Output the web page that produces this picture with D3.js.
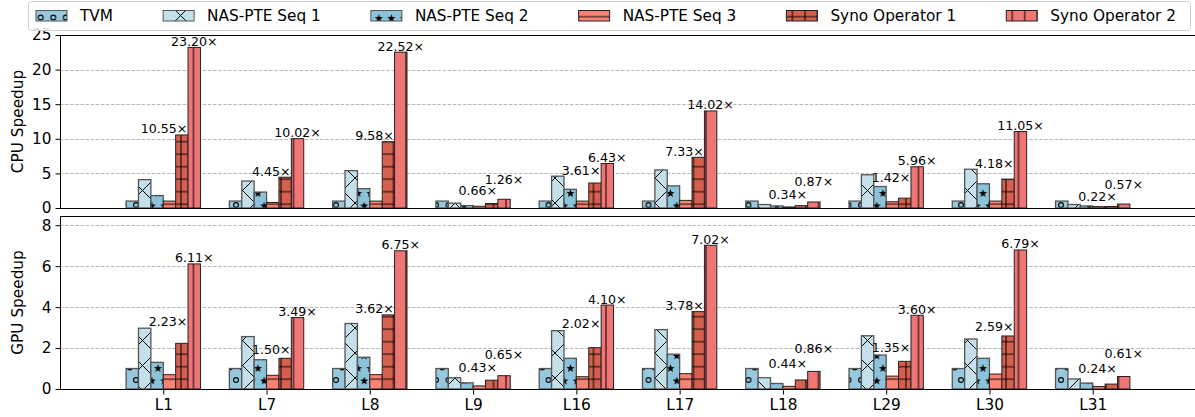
<!DOCTYPE html>
<html>
<head>
<meta charset="utf-8">
<script src="https://cdn.jsdelivr.net/npm/d3@7"></script>
<style>
  html, body { margin: 0; padding: 0; background: #fff; }
  svg { display: block; font-family: "DejaVu Sans", sans-serif; }
</style>
</head>
<body>
<svg id="chart" width="1195" height="417"></svg>
<script>
// Layers / workloads on the x axis
const categories = ["L1", "L7", "L8", "L9", "L16", "L17", "L18", "L29", "L30", "L31"];
const seriesNames = ["TVM", "NAS-PTE Seq 1", "NAS-PTE Seq 2", "NAS-PTE Seq 3", "Syno Operator 1", "Syno Operator 2"];

// CPU speedup over TVM
const cpuTVM  = [1, 1, 1, 1, 1, 1, 1, 1, 1, 1];
const cpuSeq1 = [4.1, 3.9, 5.4, 0.7, 4.6, 5.5, 0.5, 4.8, 5.6, 0.5];
const cpuSeq2 = [1.8, 2.3, 2.8, 0.35, 2.7, 3.2, 0.3, 3.1, 3.5, 0.3];
const cpuSeq3 = [1.0, 0.8, 1.0, 0.25, 1.0, 1.1, 0.15, 0.9, 1.0, 0.2];
const cpuOp1  = [10.55, 4.45, 9.58, 0.66, 3.61, 7.33, 0.34, 1.42, 4.18, 0.22];
const cpuOp2  = [23.20, 10.02, 22.52, 1.26, 6.43, 14.02, 0.87, 5.96, 11.05, 0.57];

// GPU speedup over TVM
const gpuTVM  = [1, 1, 1, 1, 1, 1, 1, 1, 1, 1];
const gpuSeq1 = [2.97, 2.56, 3.2, 0.55, 2.85, 2.9, 0.55, 2.6, 2.44, 0.49];
const gpuSeq2 = [1.3, 1.43, 1.55, 0.3, 1.5, 1.7, 0.27, 1.66, 1.5, 0.29];
const gpuSeq3 = [0.7, 0.67, 0.7, 0.15, 0.6, 0.75, 0.13, 0.63, 0.73, 0.12];
const gpuOp1  = [2.23, 1.50, 3.62, 0.43, 2.02, 3.78, 0.44, 1.35, 2.59, 0.24];
const gpuOp2  = [6.11, 3.49, 6.75, 0.65, 4.10, 7.02, 0.86, 3.60, 6.79, 0.61];

// Heights (in speedup units) at which the value labels sit
const cpuOp1LabelAt = [10.55, 4.45, 9.58, 1.6, 4.6, 7.33, 1.1, 3.5, 5.6, 0.77];
const cpuOp2LabelAt = [23.20, 10.02, 22.52, 3.3, 6.43, 14.02, 3.0, 5.96, 11.05, 2.6];
const gpuOp1LabelAt = [3.0, 1.63, 3.62, 0.78, 2.9, 3.78, 0.93, 1.75, 2.75, 0.7];
const gpuOp2LabelAt = [6.11, 3.49, 6.75, 1.4, 4.10, 7.02, 1.67, 3.60, 6.79, 1.43];

const cpuTicks = [0, 5, 10, 15, 20, 25];
const gpuTicks = [0, 2, 4, 6, 8];

const colors = ["#97c8dd", "#c3e0eb", "#8cc3da", "#fa8374", "#d6604f", "#f07676"];
const hatchIds = ["h-o", "h-x", "h-star", "h-dash", "h-plus", "h-vbar"];

const svg = d3.select("#chart");
const left = 60, right = 1196;

// ---------- hatch patterns ----------
const defs = svg.append("defs");
const P = 12.5;

function pattern(id, w, h, color, tx, ty) {
  const p = defs.append("pattern")
    .attr("id", id)
    .attr("patternUnits", "userSpaceOnUse")
    .attr("width", w).attr("height", h)
    .attr("patternTransform", `translate(${tx},${ty})`);
  p.append("rect").attr("width", w).attr("height", h).attr("fill", color);
  return p;
}
function starPath(cx, cy, R, r) {
  const pts = [];
  for (let i = 0; i < 10; i++) {
    const a = -Math.PI / 2 + i * Math.PI / 5;
    const rad = i % 2 === 0 ? R : r;
    pts.push([cx + rad * Math.cos(a), cy + rad * Math.sin(a)]);
  }
  return "M" + pts.map(p => p.join(",")).join("L") + "Z";
}
const lattice = [[0, 0], [P, 0], [0, 2 * P], [P, 2 * P], [P / 2, P]];

// circles
{
  const p = pattern("h-o", P, 2 * P, colors[0], 11, 5);
  lattice.forEach(([x, y]) =>
    p.append("circle").attr("cx", x).attr("cy", y).attr("r", 2.4)
      .attr("fill", "none").attr("stroke", "#000").attr("stroke-width", 1.1));
}
// big crosses
{
  const s = 2 * P;
  const p = pattern("h-x", s, s, colors[1], 5, 3);
  p.append("path").attr("d", `M0,0L${s},${s}M0,${s}L${s},0`)
    .attr("stroke", "#000").attr("stroke-width", 1).attr("fill", "none");
}
// stars
{
  const p = pattern("h-star", P, 2 * P, colors[2], 1.75, 6);
  lattice.forEach(([x, y]) =>
    p.append("path").attr("d", starPath(x, y, 4.3, 1.8)).attr("fill", "#000"));
}
// horizontal lines
{
  const p = pattern("h-dash", P, P, colors[3], 0, 4.2);
  p.append("path").attr("d", `M0,0L${P},0M0,${P}L${P},${P}`)
    .attr("stroke", "#000").attr("stroke-width", 1).attr("fill", "none");
}
// grid
{
  const p = pattern("h-plus", P, P, colors[4], 6, 4.2);
  p.append("path").attr("d", `M0,0L${P},0M0,${P}L${P},${P}M0,0L0,${P}M${P},0L${P},${P}`)
    .attr("stroke", "#000").attr("stroke-width", 1).attr("fill", "none");
}
// vertical lines
{
  const p = pattern("h-vbar", P, P, colors[5], 6, 0);
  p.append("path").attr("d", `M0,0L0,${P}M${P},0L${P},${P}`)
    .attr("stroke", "#000").attr("stroke-width", 1).attr("fill", "none");
}

// ---------- scales ----------
const x = d3.scaleLinear().domain([-1, 10]).range([left, right]);
const barW = 0.12;

function panel(opts) {
  const { top, bottom, yMax, ticks, series, op1LabelAt, op2LabelAt, ylabel, showX } = opts;
  const y = d3.scaleLinear().domain([0, yMax]).range([bottom, top]);
  const g = svg.append("g");

  // grid
  g.append("g").selectAll("line").data(ticks.filter(t => t > 0 && y(t) > top + 1)).join("line")
    .attr("x1", left).attr("x2", right)
    .attr("y1", d => Math.round(y(d)) + 0.5).attr("y2", d => Math.round(y(d)) + 0.5)
    .attr("stroke", "#b0b0b0").attr("stroke-width", 0.9).attr("stroke-dasharray", "3.5,1.6");

  // bars
  series.forEach((vals, k) => {
    g.append("g").selectAll("rect").data(vals).join("rect")
      .attr("x", (d, i) => x(i - 0.36 + k * barW))
      .attr("width", x(barW) - x(0))
      .attr("y", d => y(d))
      .attr("height", d => bottom - y(d))
      .attr("fill", `url(#${hatchIds[k]})`)
      .attr("stroke", k < 3 ? "#555" : "#222")
      .attr("stroke-width", k < 3 ? 1.3 : 1);
  });

  // value labels
  const op1 = series[4], op2 = series[5];
  g.append("g").selectAll("text").data(op1).join("text")
    .attr("x", (d, i) => x(i - 0.36 + 4.5 * barW) + 5.5)
    .attr("y", (d, i) => y(op1LabelAt[i]) - 1.5)
    .attr("text-anchor", "end")
    .attr("font-size", 12.6)
    .text(d => d.toFixed(2) + "×");
  g.append("g").selectAll("text").data(op2).join("text")
    .attr("x", (d, i) => x(i - 0.36 + 5.5 * barW))
    .attr("y", (d, i) => y(op2LabelAt[i]) - 1.5)
    .attr("text-anchor", "middle")
    .attr("font-size", 12.6)
    .text(d => d.toFixed(2) + "×");

  // spines
  g.append("line").attr("x1", left + 0.5).attr("x2", left + 0.5).attr("y1", top).attr("y2", bottom)
    .attr("stroke", "#000").attr("stroke-width", 1);
  g.append("line").attr("x1", left).attr("x2", right).attr("y1", top + 0.5).attr("y2", top + 0.5)
    .attr("stroke", "#000").attr("stroke-width", 1);
  g.append("line").attr("x1", left).attr("x2", right).attr("y1", bottom + 0.5).attr("y2", bottom + 0.5)
    .attr("stroke", "#000").attr("stroke-width", 1);

  // y axis
  const yAxis = d3.axisLeft(y).tickValues(ticks).tickSize(5).tickPadding(4).tickFormat(d3.format("d"));
  const ya = g.append("g").attr("transform", `translate(${left + 0.5},0)`).call(yAxis);
  ya.select(".domain").remove();
  ya.selectAll("text").attr("font-size", 15.3).attr("fill", "#000").attr("font-family", "DejaVu Sans");
  ya.selectAll("line").attr("stroke", "#000");

  svg.append("text")
    .attr("transform", `translate(23,${(top + bottom) / 2}) rotate(-90)`)
    .attr("text-anchor", "middle")
    .attr("font-size", 15.3)
    .text(ylabel);

  if (showX) {
    const xAxis = d3.axisBottom(x).tickValues(d3.range(categories.length))
      .tickFormat(i => categories[i]).tickSize(5).tickPadding(5);
    const xa = g.append("g").attr("transform", `translate(0,${bottom + 0.5})`).call(xAxis);
    xa.select(".domain").remove();
    xa.selectAll("text").attr("font-size", 15.3).attr("fill", "#000").attr("font-family", "DejaVu Sans");
    xa.selectAll("line").attr("stroke", "#000");
  }
}

panel({
  top: 35, bottom: 208, yMax: 25, ticks: cpuTicks,
  series: [cpuTVM, cpuSeq1, cpuSeq2, cpuSeq3, cpuOp1, cpuOp2],
  op1LabelAt: cpuOp1LabelAt, op2LabelAt: cpuOp2LabelAt,
  ylabel: "CPU Speedup", showX: false
});
panel({
  top: 216, bottom: 389, yMax: 8.45, ticks: gpuTicks,
  series: [gpuTVM, gpuSeq1, gpuSeq2, gpuSeq3, gpuOp1, gpuOp2],
  op1LabelAt: gpuOp1LabelAt, op2LabelAt: gpuOp2LabelAt,
  ylabel: "GPU Speedup", showX: true
});

// ---------- legend ----------
const lg = svg.append("g");
lg.append("rect")
  .attr("x", 28.5).attr("y", 1.5).attr("width", 1162).attr("height", 29)
  .attr("rx", 3).attr("fill", "#fff").attr("fill-opacity", 0.85)
  .attr("stroke", "#d0d0d0").attr("stroke-width", 1);
const items = lg.selectAll("g.item").data(seriesNames).join("g").attr("class", "item");
items.append("rect")
  .attr("width", 31).attr("height", 10.5).attr("y", 10.5)
  .attr("fill", (d, k) => `url(#${hatchIds[k]})`)
  .attr("stroke", (d, k) => k < 3 ? "#555" : "#222").attr("stroke-width", 1);
items.append("text")
  .attr("x", 44).attr("y", 21)
  .attr("font-size", 15.3)
  .text(d => d);
// spread the entries over the legend box width
const widths = [];
items.each(function () { widths.push(44 + d3.select(this).select("text").node().getComputedTextLength()); });
const startX = 36, endX = 1176;
const gap = (endX - startX - d3.sum(widths)) / (widths.length - 1);
let cx = startX;
items.each(function (d, k) {
  d3.select(this).attr("transform", `translate(${cx},0)`);
  cx += widths[k] + gap;
});
</script>
</body>
</html>
